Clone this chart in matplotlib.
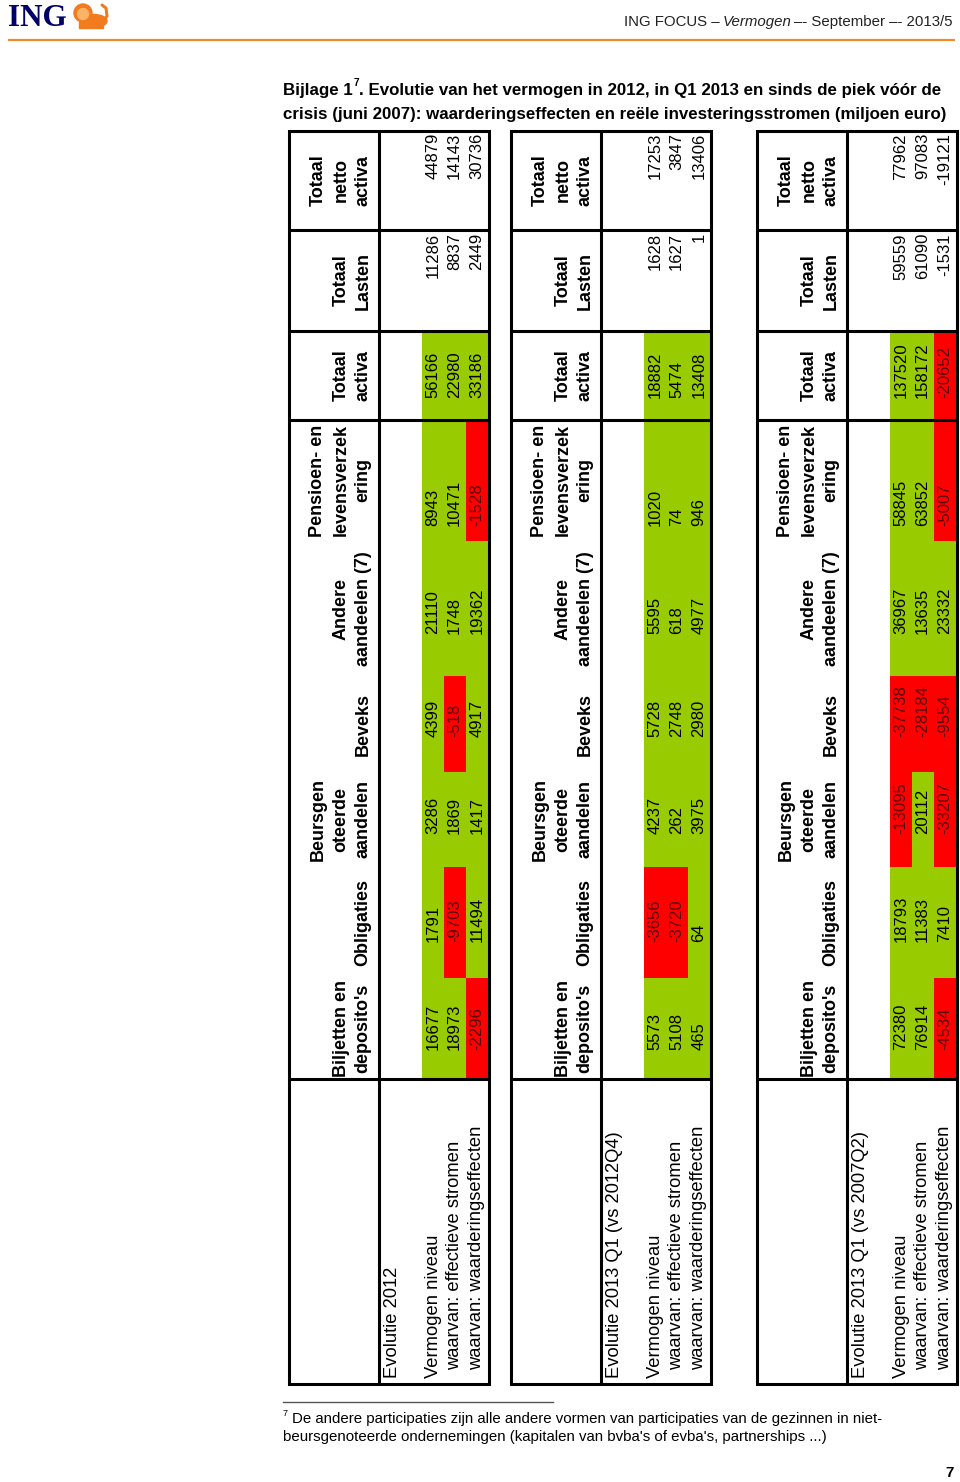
import matplotlib
matplotlib.use('Agg')
import matplotlib.pyplot as plt
from matplotlib.patches import Rectangle, Circle, Ellipse

# ---------------- data ----------------
columns = ["Biljetten en\ndeposito's", "Obligaties", "Beursgen\noteerde\naandelen", "Beveks",
           "Andere\naandeelen (7)", "Pensioen- en\nlevensverzek\nering", "Totaal\nactiva",
           "Totaal\nLasten", "Totaal\nnetto\nactiva"]
row_labels = ["Vermogen niveau", "waarvan: effectieve stromen", "waarvan: waarderingseffecten"]
section_titles = ["Evolutie 2012", "Evolutie 2013 Q1 (vs 2012Q4)", "Evolutie 2013 Q1 (vs 2007Q2)"]

evol_2012_niveau = [16677, 1791, 3286, 4399, 21110, 8943, 56166, 11286, 44879]
evol_2012_stromen = [18973, -9703, 1869, -518, 1748, 10471, 22980, 8837, 14143]
evol_2012_waard = [-2296, 11494, 1417, 4917, 19362, -1528, 33186, 2449, 30736]

q1_2013_niveau = [5573, -3656, 4237, 5728, 5595, 1020, 18882, 1628, 17253]
q1_2013_stromen = [5108, -3720, 262, 2748, 618, 74, 5474, 1627, 3847]
q1_2013_waard = [465, 64, 3975, 2980, 4977, 946, 13408, 1, 13406]

q1_vs_2007_niveau = [72380, 18793, -13095, -37738, 36967, 58845, 137520, 59559, 77962]
q1_vs_2007_stromen = [76914, 11383, 20112, -28184, 13635, 63852, 158172, 61090, 97083]
q1_vs_2007_waard = [-4534, 7410, -33207, -9554, 23332, -5007, -20652, -1531, -19121]

n_colored = 7  # asset columns + Totaal activa are colour coded

title_line1a = "Bijlage 1"
title_sup = "7"
title_line1b = ". Evolutie van het vermogen in 2012, in Q1 2013 en sinds de piek vóór de"
title_line2 = "crisis (juni 2007): waarderingseffecten en reële investeringsstromen (miljoen euro)"
header_pieces = ["ING FOCUS –", "Vermogen", "–- September –- 2013/5"]
foot_line1 = "De andere participaties zijn alle andere vormen van participaties van de gezinnen in niet-"
foot_line2 = "beursgenoteerde ondernemingen (kapitalen van bvba's of evba's, partnerships ...)"
page_no = "7"

# ---------------- layout ----------------
FONT = 'Liberation Sans'
GREEN = '#99CC00'
RED = '#FF0000'
LW = 2.2

fig = plt.figure(figsize=(9.6, 14.82), dpi=100)
ax = fig.add_axes([0, 0, 1, 1])
ax.set_xlim(0, 960)
ax.set_ylim(1482, 0)
ax.axis('off')
renderer = fig.canvas.get_renderer()


def wpx(t):
    return t.get_window_extent(renderer).width


def fit(s, target, weight='normal', style='normal', family=FONT):
    t = ax.text(0, 0, s, fontsize=10, fontweight=weight, fontstyle=style, family=family)
    w = wpx(t)
    t.remove()
    return 10 * target / w

# --- page header ---
ax.text(8, 18, "ING", family='Liberation Serif', fontweight='bold', fontsize=22.5,
        color='#000066', ha='left', va='center')
lion = '#F37B1F'
ax.add_patch(Ellipse((94, 21), 26, 13, color=lion))
ax.add_patch(Circle((83, 13), 9, color=lion))
ax.add_patch(Circle((83, 14), 5.5, color='#F9B266'))
ax.add_patch(Rectangle((79, 22), 24, 6, color=lion))
ax.plot([103, 107, 106, 102], [22, 16, 8, 5], color=lion, lw=2.2, solid_capstyle='round')

hs = fit(" ".join(header_pieces), 331)
x = 953
sp = 3.0
for piece, style in zip(header_pieces[::-1], ['normal', 'italic', 'normal']):
    t = ax.text(x, 22, piece, fontsize=hs, fontstyle=style, family=FONT, ha='right',
                va='center', color='#222222')
    x -= wpx(t) + sp
ax.plot([8, 955], [39.5, 39.5], color='#F28C28', lw=1.6, solid_capstyle='butt')

# --- title ---
ts = fit(title_line2, 664, weight='bold')
t1 = ax.text(283, 90, title_line1a, fontsize=ts, fontweight='bold', family=FONT,
             ha='left', va='center')
x = 283 + wpx(t1) + 1
t2 = ax.text(x, 83, title_sup, fontsize=ts * 0.6, fontweight='bold', family=FONT,
             ha='left', va='center')
x += wpx(t2)
ax.text(x, 90, title_line1b, fontsize=ts, fontweight='bold', family=FONT, ha='left', va='center')
ax.text(283, 114, title_line2, fontsize=ts, fontweight='bold', family=FONT, ha='left', va='center')

# --- tables ---
tables = [
    (section_titles[0], [evol_2012_niveau, evol_2012_stromen, evol_2012_waard]),
    (section_titles[1], [q1_2013_niveau, q1_2013_stromen, q1_2013_waard]),
    (section_titles[2], [q1_vs_2007_niveau, q1_vs_2007_stromen, q1_vs_2007_waard]),
]
offsets = [0, 222, 468]
TOP, BOT = 131, 1384
col_top = [978, 867, 772, 676, 541, 420, 331, 230, 131]
col_bot = [1079, 978, 867, 772, 676, 541, 420, 331, 230]
hlines = [230, 331, 420, 1079]
row_edges = [422, 443.5, 465.5, 489]
row_centers = [433, 454.5, 477]
header_x = [318, 341, 363]
num_anchor = [1050, 942, 834, 737, 634, 526, 398, 233, 133]

HDR_FS = 13.0
LAB_FS = 13.2
NUM_FS = 12

for (title, rows), off in zip(tables, offsets):
    L, D, R = 289 + off, 379 + off, 489 + off
    # fills
    for c in range(n_colored):
        for r in range(3):
            v = rows[r][c]
            x0, x1 = row_edges[r] + off, row_edges[r + 1] + off
            ax.add_patch(Rectangle((x0, col_top[c]), x1 - x0, col_bot[c] - col_top[c],
                                   facecolor=GREEN if v >= 0 else RED, edgecolor='none', zorder=1))
    # borders
    ax.add_patch(Rectangle((L, TOP), R - L, BOT - TOP, fill=False, lw=LW, edgecolor='black', zorder=3))
    ax.plot([D, D], [TOP, BOT], color='black', lw=LW, zorder=3, solid_capstyle='butt')
    for y in hlines:
        ax.plot([L, R], [y, y], color='black', lw=LW, zorder=3, solid_capstyle='butt')
    # headers
    for c, name in enumerate(columns):
        lines = name.split('\n')
        n = len(lines)
        yc = (col_top[c] + col_bot[c]) / 2
        for i, line in enumerate(lines):
            ax.text(header_x[3 - n + i] + off, yc, line, rotation=90, rotation_mode='anchor',
                    ha='center', va='center', fontsize=HDR_FS, fontweight='bold', family=FONT, zorder=4)
    # row labels
    ax.text(392.5 + off, 1378, title, rotation=90, rotation_mode='anchor', ha='left', va='center',
            fontsize=LAB_FS, family=FONT, zorder=4)
    for r, lab in enumerate(row_labels):
        ax.text(row_centers[r] + off, 1378 if r == 0 else 1370, lab, rotation=90,
                rotation_mode='anchor', ha='left', va='center', fontsize=LAB_FS, family=FONT, zorder=4)
    # numbers
    for r in range(3):
        for c in range(len(columns)):
            v = rows[r][c]
            color = '#5c0000' if (c < n_colored and v < 0) else 'black'
            ax.text(row_centers[r] + off, num_anchor[c], str(v), rotation=90, rotation_mode='anchor',
                    ha='left' if c < n_colored else 'right', va='center', fontsize=NUM_FS,
                    family=FONT, color=color, zorder=4)

# --- footnote ---
ax.plot([283, 553], [1402, 1402], color='#555555', lw=1.0)
fs = fit(foot_line2, 543)
ax.text(283, 1413, "7", fontsize=fs * 0.6, family=FONT, ha='left', va='center')
ax.text(292, 1419, foot_line1, fontsize=fs, family=FONT, ha='left', va='center')
ax.text(283, 1437, foot_line2, fontsize=fs, family=FONT, ha='left', va='center')

ax.text(954, 1473, page_no, fontsize=11, fontweight='bold', family=FONT, ha='right', va='center')

fig.savefig('out.png', dpi=100)
